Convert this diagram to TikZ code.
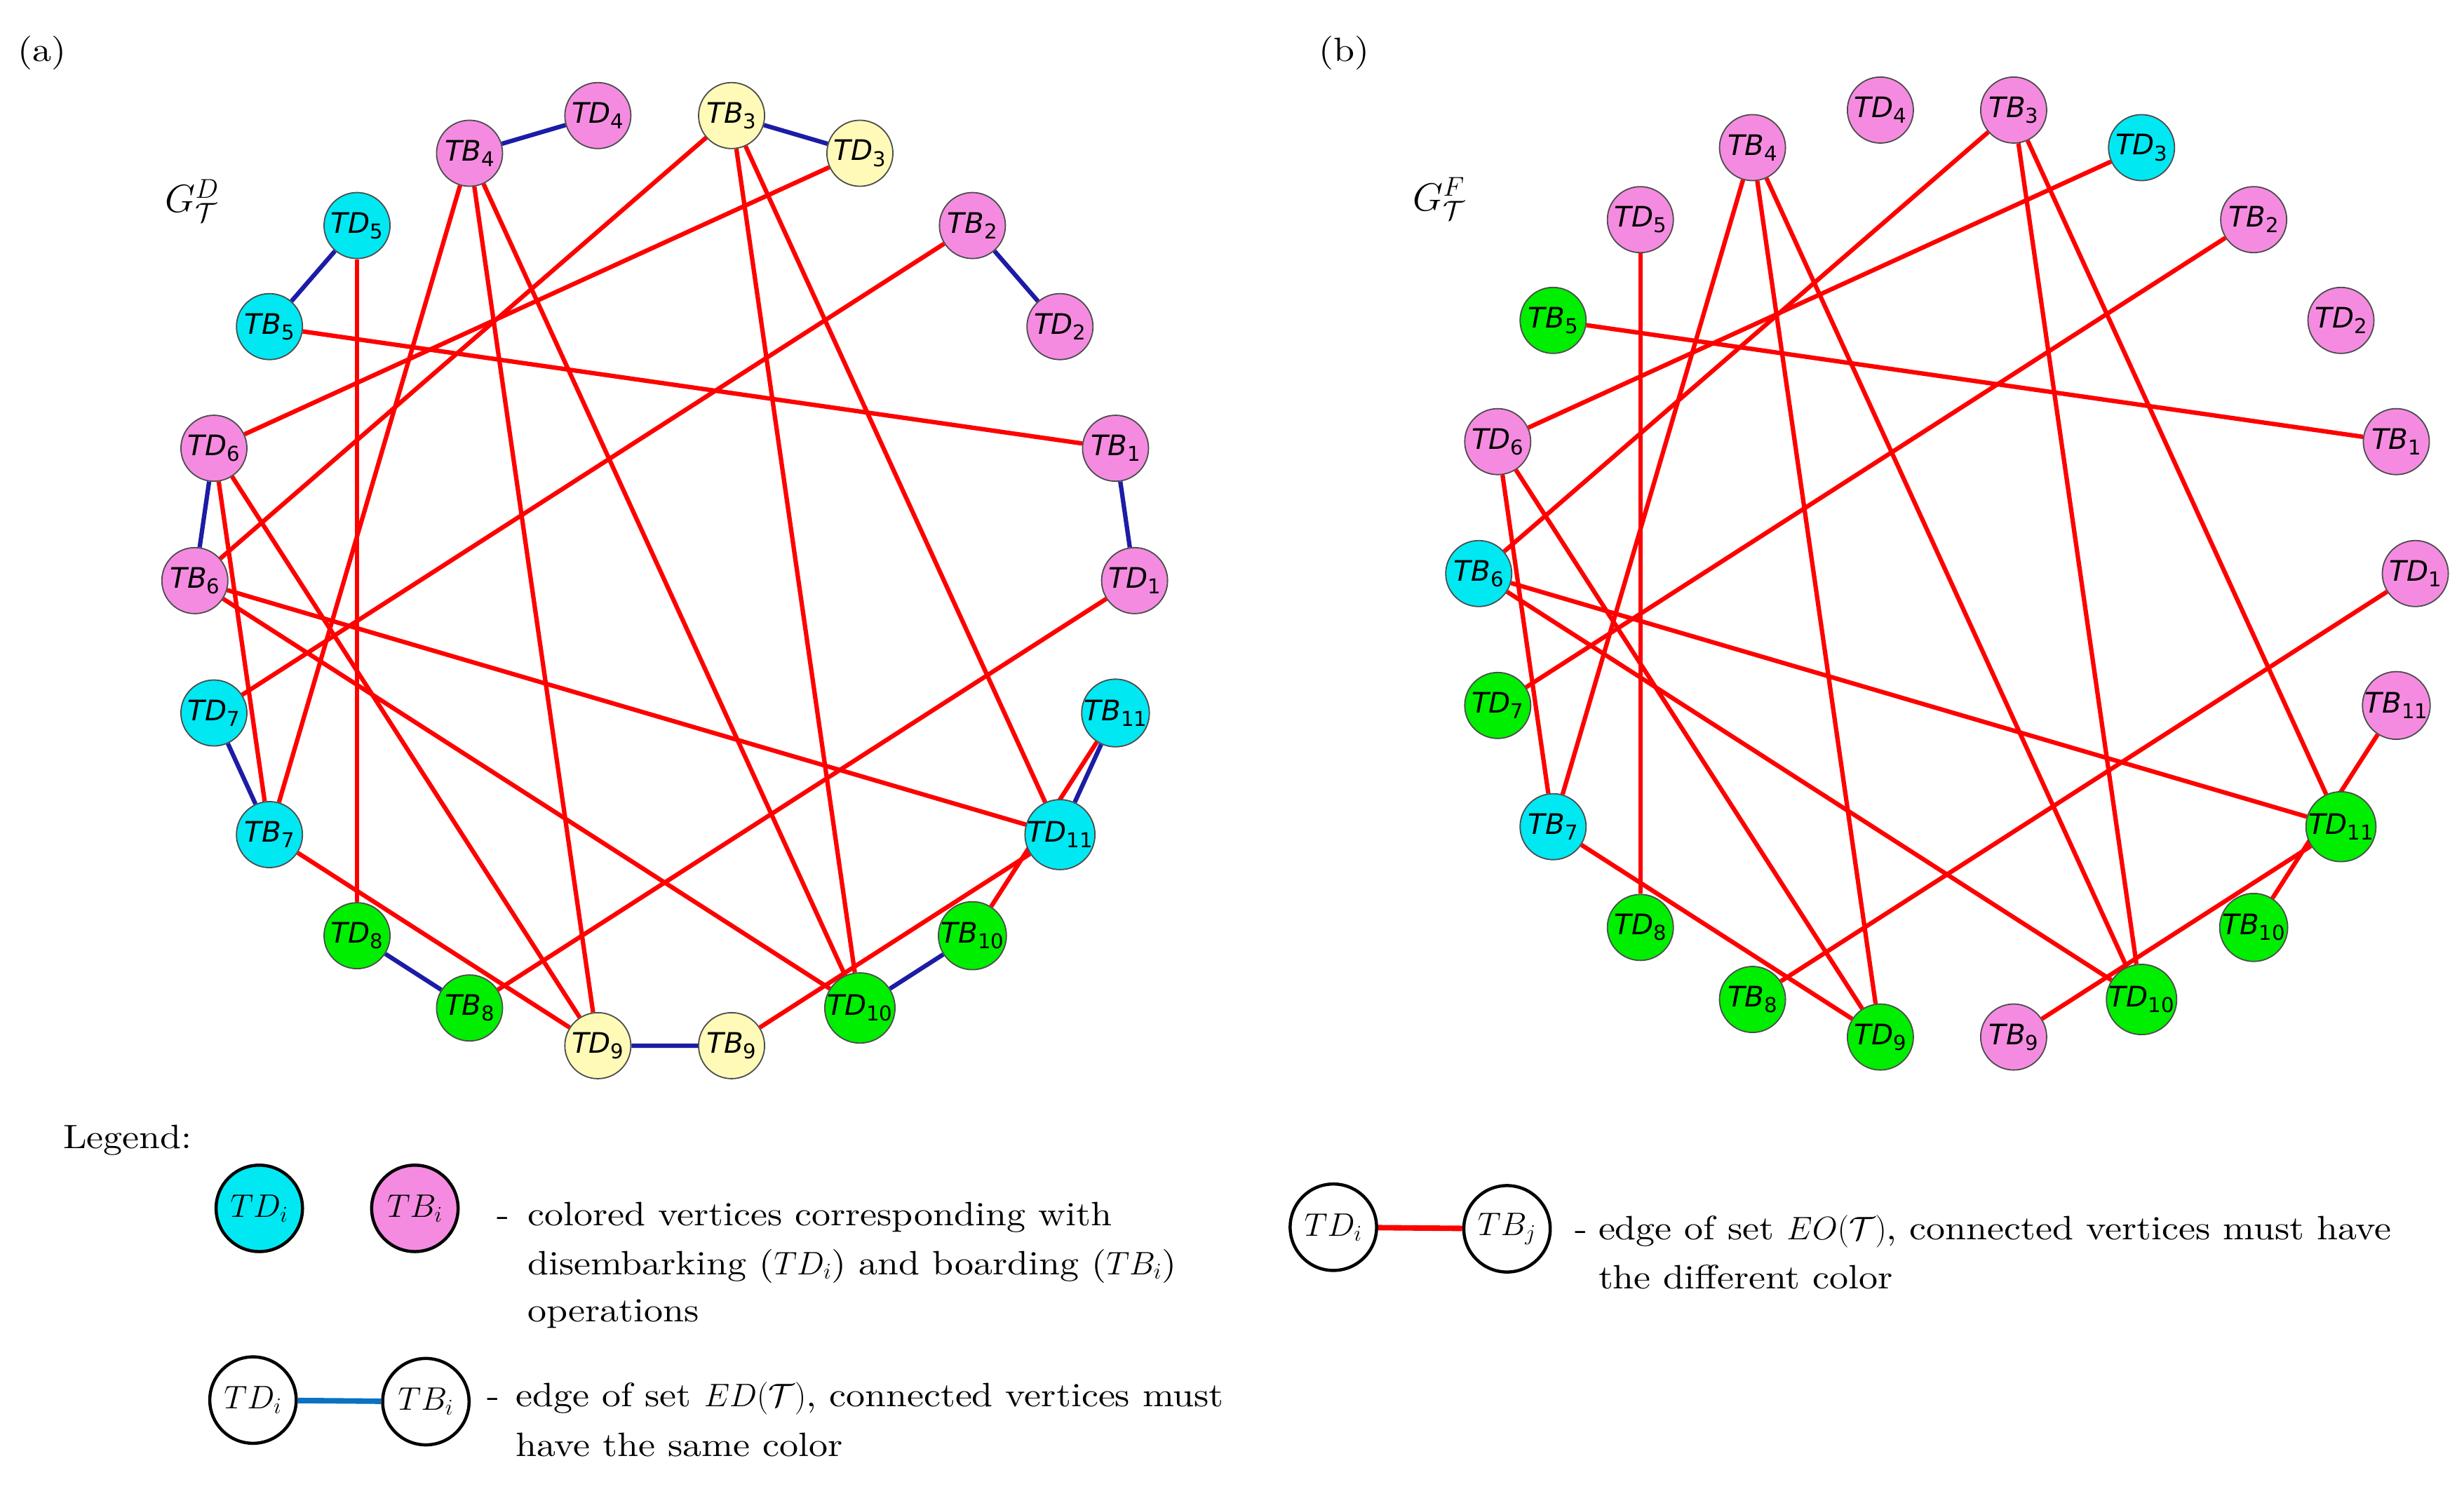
\documentclass[tikz,border=0pt]{standalone}
\usepackage{fontspec}
\setmainfont{lmroman10-regular.otf}[FakeStretch=1.12, ItalicFont=lmroman10-italic.otf, BoldFont=lmroman10-bold.otf]
\newfontfamily\lblfont{DejaVu Sans}
\definecolor{pk}{HTML}{F58BE0}
\definecolor{cy}{HTML}{00E8F2}
\definecolor{gr}{HTML}{00EE00}
\definecolor{ye}{HTML}{FFFAB8}
\definecolor{navyE}{HTML}{1C1CA6}
\definecolor{legblue}{HTML}{0A72C0}
\pgfdeclarelayer{edges}
\pgfsetlayers{edges,main}
\newcommand\vlab[2]{\textit{T#1}\raisebox{-0.2em}{\fontsize{13}{13}\selectfont #2}}
\tikzset{
  vert/.style={circle, draw=black!70, line width=0.8pt, minimum size=42pt, inner sep=0pt, font=\lblfont\fontsize{18}{18}\selectfont},
  redge/.style={draw=red, line width=2.8pt},
  bedge/.style={draw=navyE, line width=2.8pt},
  legv/.style={circle, draw=black, line width=2pt, minimum size=55pt, inner sep=0pt, font=\fontsize{22}{22}\selectfont},
  legtext/.style={anchor=base west, inner sep=0pt, font=\fontsize{21.5}{26}\selectfont},
}
\begin{document}
\begin{tikzpicture}[x=1pt,y=-1pt]
\useasboundingbox (0,0) rectangle (1568,952);
% panel labels
\node[legtext] (pa) at (11,39) {(a)};
\node[legtext] (pb) at (839,39) {(b)};
\node[anchor=base west, inner sep=0pt, font=\fontsize{24}{24}\selectfont] (ga) at (105,135) {$G^{D}_{\mathcal{T}}$};
\node[anchor=base west, inner sep=0pt, font=\fontsize{24}{24}\selectfont] (gb) at (899,134) {$G^{F}_{\mathcal{T}}$};
% panel (a) vertices
\foreach \kk/\ty/\ix/\cc in {0/D/1/pk,1/B/1/pk,2/D/2/pk,3/B/2/pk,4/D/3/ye,5/B/3/ye,6/D/4/pk,7/B/4/pk,8/D/5/cy,9/B/5/cy,10/D/6/pk,11/B/6/pk,12/D/7/cy,13/B/7/cy,14/D/8/gr,15/B/8/gr,16/D/9/ye,17/B/9/ye,18/D/10/gr,19/B/10/gr,20/D/11/cy,21/B/11/cy}
  \node[vert, fill=\cc] (a\ty\ix) at ({423+299*cos(\kk*360/22)},{369.5-299*sin(\kk*360/22)}) {\vlab{\ty}{\ix}};
% panel (b) vertices
\foreach \kk/\ty/\ix/\cc in {0/D/1/pk,1/B/1/pk,2/D/2/pk,3/B/2/pk,4/D/3/cy,5/B/3/pk,6/D/4/pk,7/B/4/pk,8/D/5/pk,9/B/5/gr,10/D/6/pk,11/B/6/cy,12/D/7/gr,13/B/7/cy,14/D/8/gr,15/B/8/gr,16/D/9/gr,17/B/9/pk,18/D/10/gr,19/B/10/gr,20/D/11/gr,21/B/11/pk}
  \node[vert, fill=\cc] (b\ty\ix) at ({1239+298*cos(\kk*360/22)},{365-298*sin(\kk*360/22)}) {\vlab{\ty}{\ix}};
\begin{pgfonlayer}{edges}
  \foreach \ix in {1,...,11} \draw[bedge] (aD\ix) -- (aB\ix);
  \foreach \p in {a,b} {
    \foreach \u/\v in {B3/B6,D3/D6,B4/B7,B4/D9,B4/D10,B3/D10,B3/D11,D5/D8,B5/B1,B2/D7,D1/B8,D6/B7,D6/D9,B6/D11,B6/D10,B7/D9,B9/D11,B11/B10}
      \draw[redge] (\p\u) -- (\p\v);
  }
\end{pgfonlayer}
% legend
\node[legtext] (leg) at (40,731) {Legend:};
\node[legv, fill=cy] (l1) at (165,769) {$TD_i$};
\node[legv, fill=pk] (l2) at (264,769) {$TB_i$};
\node[legtext] (d1) at (316,780) {-};
\node[legtext] (t1) at (335.5,780) {colored vertices corresponding with};
\node[legtext] (t2) at (335.5,811) {disembarking ($TD_i$) and boarding ($TB_i$)};
\node[legtext] (t3) at (335.5,841) {operations};
\node[legv, fill=white] (l3) at (161,891) {$TD_i$};
\node[legv, fill=white] (l4) at (271,892) {$TB_i$};
\draw[draw=legblue, line width=3.5pt] (l3) -- (l4);
\node[legtext] (d2) at (310,895) {-};
\node[legtext] (t4) at (328,895) {edge of set $ED(\mathcal{T})$, connected vertices must};
\node[legtext] (t5) at (328,927) {have the same color};
\node[legv, fill=white] (l5) at (848.5,781) {$TD_i$};
\node[legv, fill=white] (l6) at (959,782) {$TB_j$};
\draw[draw=red, line width=3.5pt] (l5) -- (l6);
\node[legtext] (d3) at (1002,789) {-};
\node[legtext] (t6) at (1017,789) {edge of set $EO(\mathcal{T})$, connected vertices must have};
\node[legtext] (t7) at (1017,820) {the different color};
\end{tikzpicture}
\end{document}
